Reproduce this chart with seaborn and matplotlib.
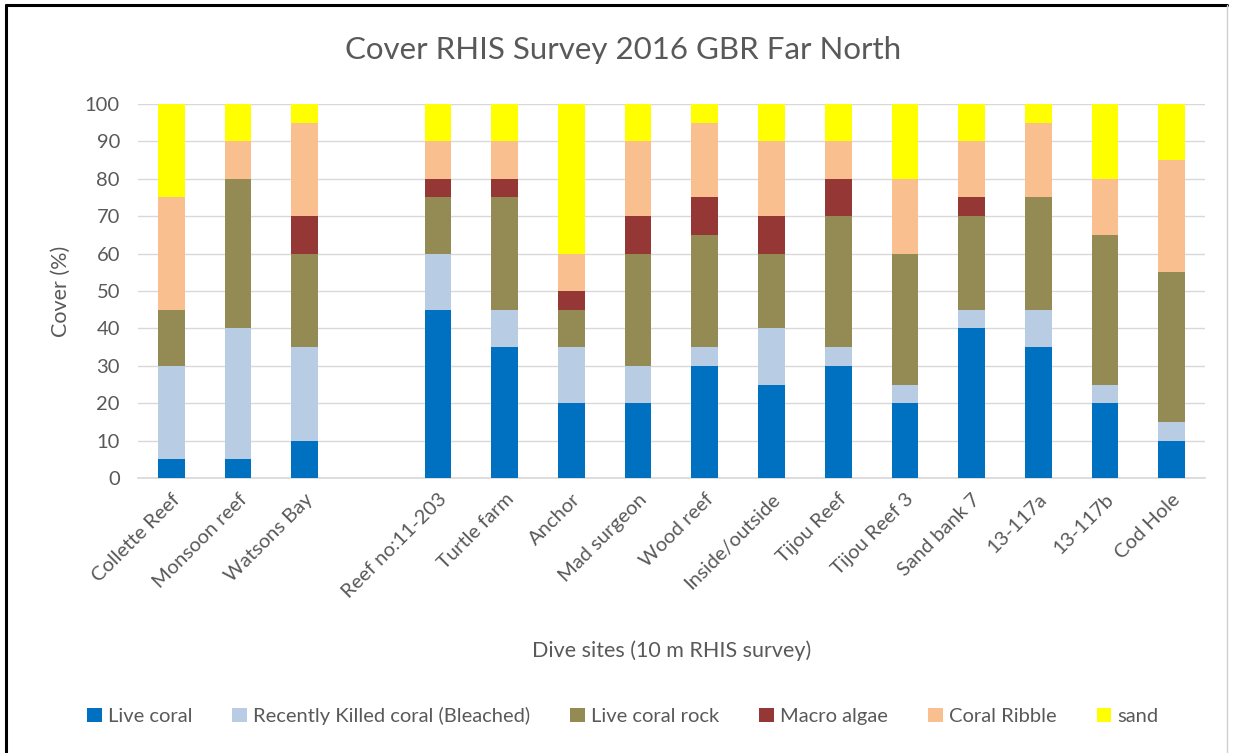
import numpy as np
import pandas as pd
import matplotlib
matplotlib.use("Agg")
import matplotlib.pyplot as plt
from matplotlib.lines import Line2D
from matplotlib.patches import Patch
import seaborn as sns

# Dive sites, in survey order (a blank slot separates the first three sites)
sites = ["Collette Reef", "Monsoon reef", "Watsons Bay",
         "Reef no:11-203", "Turtle farm", "Anchor", "Mad surgeon", "Wood reef",
         "Inside/outside", "Tijou Reef", "Tijou Reef 3", "Sand bank 7",
         "13-117a", "13-117b", "Cod Hole"]
order = sites[:3] + [" "] + sites[3:]

# Cover (%) per category
live_coral     = [5, 5, 10, 45, 35, 20, 20, 30, 25, 30, 20, 40, 35, 20, 10]
recently_killed = [25, 35, 25, 15, 10, 15, 10, 5, 15, 5, 5, 5, 10, 5, 5]
live_rock      = [15, 40, 25, 15, 30, 10, 30, 30, 20, 35, 35, 25, 30, 40, 40]
macro_algae    = [0, 0, 10, 5, 5, 5, 10, 10, 10, 10, 0, 5, 0, 0, 0]
coral_ribble   = [30, 10, 25, 10, 10, 10, 20, 20, 20, 10, 20, 15, 20, 15, 30]
sand           = [25, 10, 5, 10, 10, 40, 10, 5, 10, 10, 20, 10, 5, 20, 15]

categories = ["Live coral", "Recently Killed coral (Bleached)", "Live coral rock",
              "Macro algae", "Coral Ribble", "sand"]
series = [live_coral, recently_killed, live_rock, macro_algae, coral_ribble, sand]
colors = ["#0070C0", "#B8CCE4", "#948A54", "#953735", "#FABF8F", "#FFFF00"]

df = pd.DataFrame(dict(zip(categories, series)), index=sites)
cum = df.cumsum(axis=1)

sns.set_theme(style="white")
plt.rcParams["font.family"] = ["Lato", "DejaVu Sans"]
text_color = "#595959"

fig = plt.figure(figsize=(12.33, 7.53), dpi=100)
ax = fig.add_axes([0.1119, 0.3652, 0.8654, 0.4967])

# Stacked bars: draw cumulative totals from the top layer down
for cat, col in reversed(list(zip(categories, colors))):
    d = pd.DataFrame({"site": sites, "value": cum[cat].values})
    sns.barplot(data=d, x="site", y="value", order=order, color=col,
                width=0.4, saturation=1, linewidth=0, ax=ax, zorder=3)

ax.set_ylim(0, 100)
ax.set_xlim(-0.5, len(order) - 0.5)
ax.set_yticks(range(0, 101, 10))
ax.yaxis.grid(True, color="#D9D9D9", linewidth=1.0, zorder=0)
ax.xaxis.grid(False)
for s in ["top", "right", "left"]:
    ax.spines[s].set_visible(False)
ax.spines["bottom"].set_color("#D9D9D9")
ax.spines["bottom"].set_zorder(2)
ax.tick_params(axis="both", length=0, colors=text_color, labelsize=14.5)
ax.tick_params(axis="y", pad=13)
ax.set_xticks(range(len(order)))
ax.set_xticklabels(order, rotation=45, ha="right", rotation_mode="anchor")
ax.tick_params(axis="x", pad=9)

ax.set_xlabel("Dive sites (10 m RHIS survey)", fontsize=15.5, color=text_color, labelpad=28)
ax.set_ylabel("Cover (%)", fontsize=15.5, color=text_color, labelpad=10)
fig.text(0.505, 0.934, "Cover RHIS Survey 2016 GBR Far North", ha="center", va="center",
         fontsize=22.5, color=text_color)

handles = [Patch(facecolor=c, edgecolor="none") for c in colors]
fig.legend(handles, categories, loc="center", bbox_to_anchor=(0.505, 0.049), ncol=6,
           frameon=False, fontsize=14.5, labelcolor=text_color, handlelength=0.72,
           handleheight=0.72, handletextpad=0.3, columnspacing=2.0)

# Outer frame of the chart
fig.add_artist(Line2D([0.0045, 0.0045], [0.0, 0.9935], transform=fig.transFigure,
                      color="black", linewidth=2.2))
fig.add_artist(Line2D([0.0045, 0.9955], [0.9935, 0.9935], transform=fig.transFigure,
                      color="black", linewidth=2.2))
fig.add_artist(Line2D([0.9955, 0.9955], [0.0, 0.9935], transform=fig.transFigure,
                      color="#D0D0D0", linewidth=1.0))

fig.savefig("out.png", dpi=100, facecolor="white")
